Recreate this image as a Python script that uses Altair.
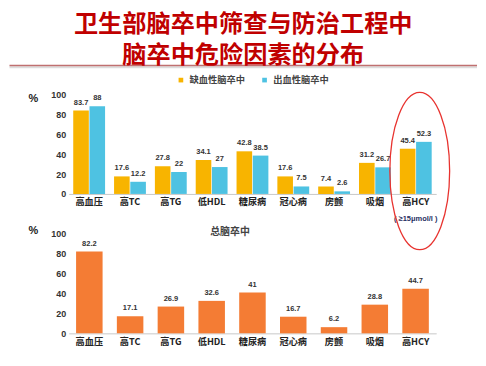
import altair as alt
import pandas as pd

categories = ["高血压", "高TC", "高TG", "低HDL", "糖尿病", "冠心病", "房颤", "吸烟", "高HCY"]
series_names = ["缺血性脑卒中", "出血性脑卒中"]
ischemic = [83.7, 17.6, 27.8, 34.1, 42.8, 17.6, 7.4, 31.2, 45.4]
hemorrhagic = [88, 12.2, 22, 27, 38.5, 7.5, 2.6, 26.7, 52.3]
total = [82.2, 17.1, 26.9, 32.6, 41, 16.7, 6.2, 28.8, 44.7]
y_ticks = [0, 20, 40, 60, 80, 100]
title_lines = ["卫生部脑卒中筛查与防治工程中", "脑卒中危险因素的分布"]
bottom_title = "总脑卒中"
highlight = "高HCY"
highlight_note = "( ≥15μmol/l )"

FONT = "Noto Sans CJK SC"
NUMFONT = "Liberation Sans"

rows = []
for c, a, b in zip(categories, ischemic, hemorrhagic):
    rows.append({"cat": c, "series": series_names[0], "v": a, "lbl": f"{a:g}"})
    rows.append({"cat": c, "series": series_names[1], "v": b, "lbl": f"{b:g}"})
df_top = pd.DataFrame(rows)
df_bot = pd.DataFrame({"cat": categories, "v": total, "lbl": [f"{v:g}" for v in total]})
df_hl = pd.DataFrame({"cat": [highlight], "v": [23], "note": [highlight_note]})

W = 369
H1 = 100
H2 = 100

xscale1 = alt.Scale(domain=categories, paddingInner=0.22, paddingOuter=0.11)
xscale2 = alt.Scale(domain=categories, paddingInner=0.35, paddingOuter=0.18)
yscale = alt.Scale(domain=[0, 100])


def xaxis():
    return alt.Axis(title=None, labelAngle=0, ticks=False, domainColor="#c8c8c8",
                    labelFont=FONT, labelFontSize=9.2, labelFontWeight="bold",
                    labelColor="#222", labelPadding=4)


def yaxis(ty):
    return alt.Axis(values=y_ticks, title="%", titleAngle=0, titleX=-41, titleY=ty,
                    titleAlign="left", titleBaseline="middle", titleFontSize=11,
                    titleFont=NUMFONT, titleFontWeight="bold", titleColor="#222",
                    grid=False, ticks=False, domain=False, labelFont=NUMFONT,
                    labelFontSize=9, labelFontWeight="bold", labelColor="#333",
                    labelPadding=3, labelOverlap=False)


xo = alt.XOffset("series:N", sort=series_names, scale=alt.Scale(paddingInner=0.04))

bars1 = alt.Chart(df_top).mark_bar(strokeWidth=0.6, strokeOpacity=0.5).encode(
    x=alt.X("cat:N", scale=xscale1, axis=xaxis(), sort=categories),
    xOffset=xo,
    y=alt.Y("v:Q", scale=yscale, axis=yaxis(4)),
    color=alt.Color("series:N", sort=series_names,
                    scale=alt.Scale(domain=series_names, range=["#F8B400", "#4EC2E2"]),
                    legend=alt.Legend(title=None, orient="none", legendX=108, legendY=-19,
                                      direction="horizontal", symbolType="square",
                                      symbolSize=22, labelFont=FONT, labelFontSize=9.3,
                                      labelFontWeight="bold", labelColor="#444",
                                      columnPadding=14, symbolStrokeWidth=0)),
)
text1 = alt.Chart(df_top).mark_text(baseline="bottom", dy=-4, font=NUMFONT,
                                    fontSize=7.5, fontWeight="bold", color="#333").encode(
    x=alt.X("cat:N", scale=xscale1, axis=xaxis(), sort=categories),
    xOffset=xo,
    y=alt.Y("v:Q", scale=yscale, axis=yaxis(4)),
    text="lbl:N",
)
note = alt.Chart(df_hl).mark_text(baseline="middle", font=NUMFONT, fontSize=7.5,
                                  fontWeight="bold", color="#1F2F5F").encode(
    x=alt.X("cat:N", scale=xscale1, axis=xaxis(), sort=categories),
    y=alt.value(H1 + 25),
    text="note:N",
)
ellipse_path = ("M 0 -1 C 0.2099 -1 0.38 -0.5523 0.38 0 C 0.38 0.5523 0.2099 1 0 1 "
                "C -0.2099 1 -0.38 0.5523 -0.38 0 C -0.38 -0.5523 -0.2099 -1 0 -1 Z")
ell = alt.Chart(df_hl).mark_point(shape=ellipse_path, size=24964, filled=False,
                                  stroke="#E8332F", strokeWidth=1.3, opacity=1,
                                  xOffset=4).encode(
    x=alt.X("cat:N", scale=xscale1, axis=xaxis(), sort=categories),
    y=alt.Y("v:Q", scale=yscale, axis=yaxis(4)),
)
rule = alt.Chart(df_hl).mark_rule(color="#C07070", strokeWidth=1.5).encode(
    x=alt.value(-59.5), x2=alt.value(410), y=alt.value(-29)
)
rule2 = alt.Chart(df_hl).mark_rule(color="#DDDDDD", strokeWidth=2).encode(
    x=alt.value(-59.5), x2=alt.value(410), y=alt.value(-27.3)
)

top = alt.layer(rule2, rule, bars1, text1, note, ell).properties(width=W, height=H1)

bars2 = alt.Chart(df_bot).mark_bar(color="#F47C34").encode(
    x=alt.X("cat:N", scale=xscale2, axis=xaxis(), sort=categories),
    y=alt.Y("v:Q", scale=yscale, axis=yaxis(-3)),
)
text2 = alt.Chart(df_bot).mark_text(baseline="bottom", dy=-4, font=NUMFONT,
                                    fontSize=7.5, fontWeight="bold", color="#333").encode(
    x=alt.X("cat:N", scale=xscale2, axis=xaxis(), sort=categories),
    y=alt.Y("v:Q", scale=yscale, axis=yaxis(-3)),
    text="lbl:N",
)
bottom = alt.layer(bars2, text2).properties(
    width=W, height=H2,
    title=alt.TitleParams(bottom_title, anchor="start", frame="group", dx=142, dy=14,
                          offset=2, font=FONT, fontSize=10, fontWeight="bold",
                          color="#444"),
)

chart = alt.vconcat(top, bottom, spacing=40, bounds="flush").properties(
    title=alt.TitleParams(title_lines, font=FONT, fontSize=24.3, fontWeight="bold",
                          color="#C00000", lineHeight=31, anchor="middle", offset=-3.3),
    padding={"left": 0, "top": 4, "right": 0, "bottom": 0},
).resolve_legend(color="independent").configure_view(stroke=None).configure_axis(
    labelOverlap=False
)

chart.save("out.html", embed_options={"renderer": "svg", "actions": False})
